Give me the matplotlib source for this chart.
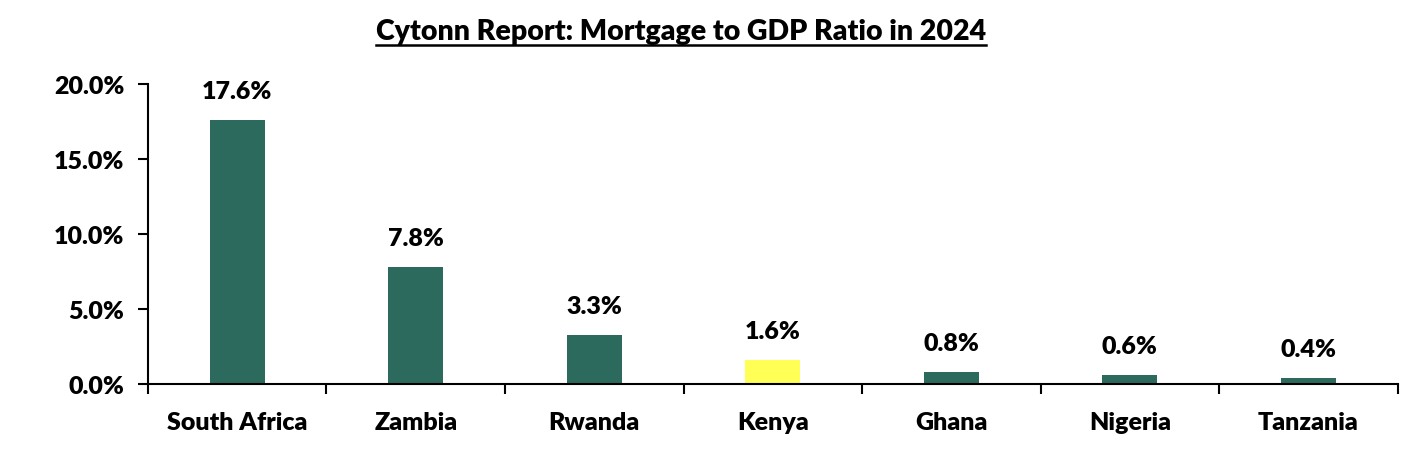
import numpy as np
import matplotlib.pyplot as plt
from matplotlib.ticker import FuncFormatter, FixedLocator
from matplotlib.lines import Line2D

# dane
countries = ['South Africa', 'Zambia', 'Rwanda', 'Kenya', 'Ghana', 'Nigeria', 'Tanzania']
ratio = [17.6, 7.8, 3.3, 1.6, 0.8, 0.6, 0.4]
highlight = 'Kenya'

plt.rcParams['font.family'] = ['Lato', 'DejaVu Sans']
plt.rcParams['font.weight'] = 'heavy'

green = '#2D6A5E'
yellow = '#FFFF55'
colors = [yellow if c == highlight else green for c in countries]

fig = plt.figure(figsize=(14.12, 4.64), dpi=100)
ax = fig.add_axes([0.1048, 0.170, 0.885, 0.647])

x = np.arange(len(countries))
bars = ax.bar(x, ratio, width=0.31, color=colors)

for xi, v in zip(x, ratio):
    ax.annotate(f'{v:.1f}%', (xi, v), xytext=(0, 13), textcoords='offset points',
                ha='center', va='bottom', fontsize=18, fontweight='heavy')

ax.set_xlim(-0.5, len(countries) - 0.5)
ax.set_ylim(0, 20)
ax.set_yticks([0, 5, 10, 15, 20])
ax.yaxis.set_major_formatter(FuncFormatter(lambda v, p: f'{v:.1f}%'))
ax.set_xticks(x)
ax.set_xticklabels(countries)
ax.xaxis.set_minor_locator(FixedLocator(np.arange(-0.5, len(countries), 1.0)))
ax.tick_params(axis='x', which='major', length=0, pad=19, labelsize=18)
ax.tick_params(axis='x', which='minor', length=7, width=1.5, direction='out')
ax.tick_params(axis='y', length=7, width=1.5, direction='out', pad=10, labelsize=18)
for lab in ax.get_xticklabels() + ax.get_yticklabels():
    lab.set_fontweight('heavy')

ax.spines['top'].set_visible(False)
ax.spines['right'].set_visible(False)
ax.spines['left'].set_linewidth(1.5)
ax.spines['bottom'].set_linewidth(1.5)

# tytuł z podkreśleniem
title = fig.text(0.482, 0.931, 'Cytonn Report: Mortgage to GDP Ratio in 2024',
                 ha='center', va='center', fontsize=20.5, fontweight='heavy')
fig.canvas.draw()
bb = title.get_window_extent().transformed(fig.transFigure.inverted())
fig.add_artist(Line2D([bb.x0, bb.x1], [bb.y0 - 0.002, bb.y0 - 0.002],
                      transform=fig.transFigure, color='black', linewidth=1.8))

fig.savefig('out.png', dpi=100)
